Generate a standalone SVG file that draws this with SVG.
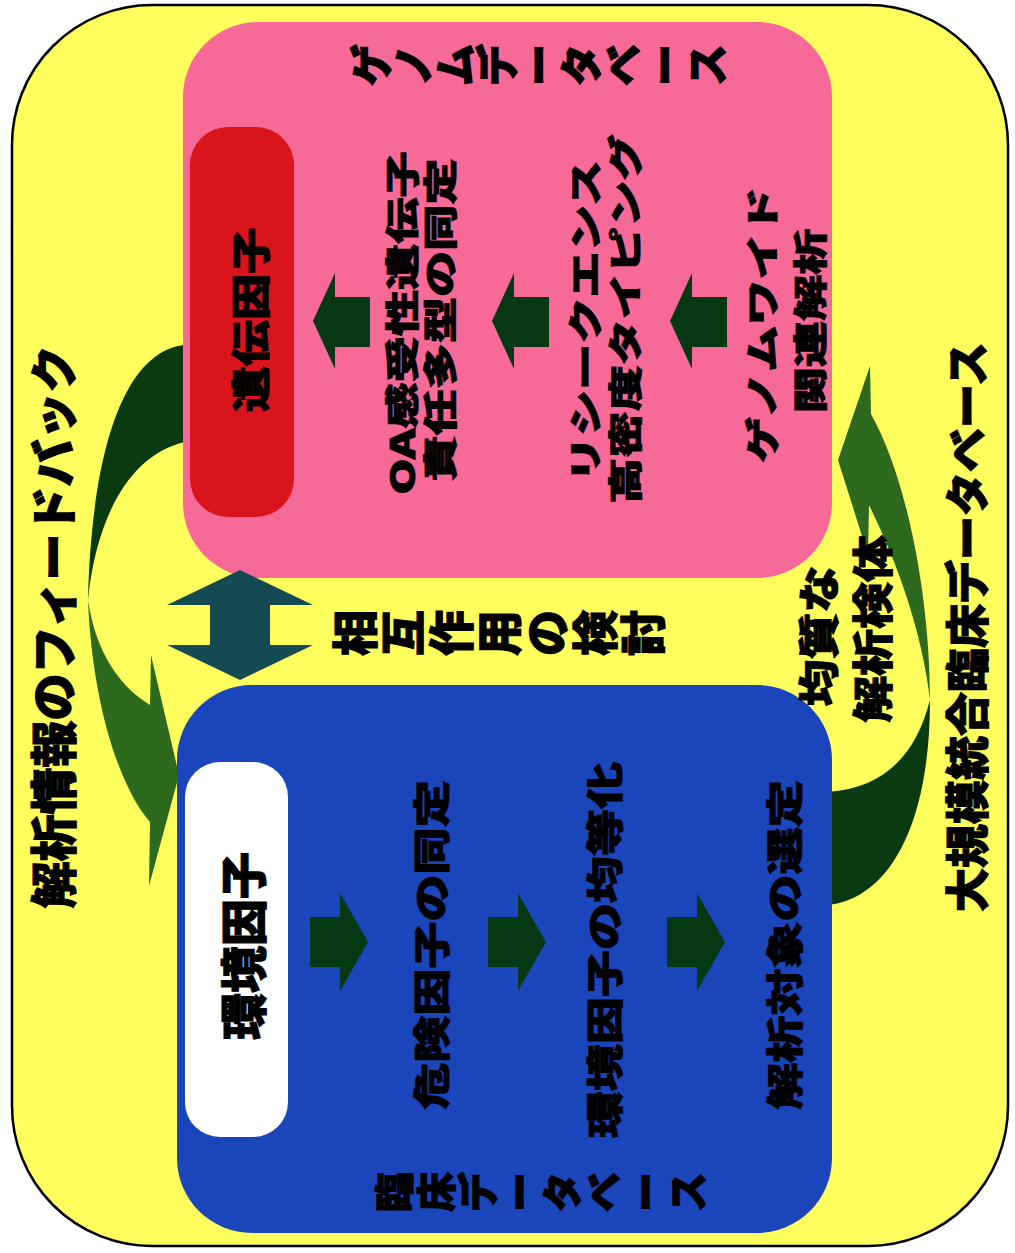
<svg xmlns="http://www.w3.org/2000/svg" width="1015" height="1253" viewBox="0 0 1015 1253">
<style>
.t{font-family:"Noto Sans CJK JP","Noto Sans",sans-serif;font-weight:900;fill:#000;stroke:#000;stroke-width:1.1;text-anchor:middle;dominant-baseline:central}
.sq{fill:#073814}
.back{fill:#0A3A12}
.front{fill:#2E6A1E}
</style>
<defs>
<polygon id="la" points="0,48 22,0 22,24 57,24 57,74 22,74 22,96"/>
<polygon id="ra" points="0,24 30,24 30,0 58,49 30,98 30,74 0,74"/>
</defs>
<rect width="1015" height="1253" fill="#fff"/>
<g id="outer">
<rect x="12" y="5" width="996" height="1241" rx="140" fill="#FFFF5E" stroke="#000" stroke-width="2.5"/>
<text class="t" font-size="47" transform="translate(50,627) rotate(-90)">解析情報のフィードバック</text>
<text class="t" font-size="44" transform="translate(965,627) rotate(-90)">大規模統合臨床データベース</text>
</g>
<g id="connectors">
<path class="back" d="M185,345 C128,350 92,440 88,600 C96,520 128,455 185,442 Z"/>
<path class="front" d="M88,600 C92,700 118,785 150,822 L149,886 L179,775 L151,655 L150,705 C122,688 96,655 88,600 Z"/>
<path class="back" d="M828,905 C892,898 930,820 930,700 C915,758 882,788 828,792 Z"/>
<path class="front" d="M930,700 C930,600 908,480 871,414 L870,366 L838,460 L868,555 L869,505 C896,560 922,630 930,700 Z"/>
</g>
<g id="genome">
<rect x="183" y="22" width="649" height="556" rx="75" fill="#F76A98"/>
<g class="t" font-size="42">
<text transform="translate(368,65) rotate(-90)">ゲ</text>
<text transform="translate(410,65) rotate(-90)">ノ</text>
<text transform="translate(452,65) rotate(-90)">ム</text>
<text transform="translate(494,65) rotate(-90)">デ</text>
<text transform="translate(536,65) rotate(-90)">ー</text>
<text transform="translate(578,65) rotate(-90)">タ</text>
<text transform="translate(620,65) rotate(-90)">ベ</text>
<text transform="translate(662,65) rotate(-90)">ー</text>
<text transform="translate(704,65) rotate(-90)">ス</text>
</g>
<g class="t" font-size="42">
<text transform="translate(400,323) rotate(-90) scale(1.1,0.8)">OA感受性遺伝子</text>
<text transform="translate(438,320) rotate(-90) scale(1.1,0.8)">責任多型の同定</text>
<text transform="translate(583,321) rotate(-90) scale(1.1,0.8)">リシークエンス</text>
<text transform="translate(623,319) rotate(-90) scale(1.1,0.8)">高密度タイピング</text>
<text transform="translate(760,325) rotate(-90) scale(1.1,0.8)">ゲノムワイド</text>
<text transform="translate(808,321) rotate(-90) scale(1.1,0.8)">関連解析</text>
</g>
</g>
<g id="gene">
<rect x="190" y="127" width="104" height="390" rx="38" fill="#D9141C"/>
<text class="t" font-size="44" transform="translate(248,320) rotate(-90) scale(1.05,0.88)">遺伝因子</text>
</g>
<g id="clinical">
<rect x="177" y="685" width="655" height="548" rx="75" fill="#1B45BA"/>
<g class="t" font-size="40">
<text transform="translate(392,1192) rotate(-90)">臨</text>
<text transform="translate(434,1192) rotate(-90)">床</text>
<text transform="translate(476,1192) rotate(-90)">デ</text>
<text transform="translate(518,1192) rotate(-90)">ー</text>
<text transform="translate(560,1192) rotate(-90)">タ</text>
<text transform="translate(602,1192) rotate(-90)">ベ</text>
<text transform="translate(644,1192) rotate(-90)">ー</text>
<text transform="translate(686,1192) rotate(-90)">ス</text>
</g>
<g class="t" font-size="44">
<text transform="translate(430,945) rotate(-90) scale(1.07,0.85)">危険因子の同定</text>
<text transform="translate(603,950) rotate(-90) scale(1.07,0.85)">環境因子の均等化</text>
<text transform="translate(783,945) rotate(-90) scale(1.07,0.85)">解析対象の選定</text>
</g>
</g>
<g id="env">
<rect x="185" y="762" width="103" height="375" rx="35" fill="#fff"/>
<text class="t" font-size="47" transform="translate(240,946) rotate(-90)">環境因子</text>
</g>
<g id="arrows">
<polygon points="240,570 313,605 270,605 270,645 313,645 240,680 167,645 210,645 210,605 167,605" fill="#154A52"/>
<use href="#la" x="313" y="273" class="sq"/>
<use href="#la" x="492" y="273" class="sq"/>
<use href="#la" x="670" y="273" class="sq"/>
<use href="#ra" x="310" y="893" class="sq"/>
<use href="#ra" x="488" y="893" class="sq"/>
<use href="#ra" x="667" y="893" class="sq"/>
</g>
<g id="labels" class="t" font-size="46">
<text transform="translate(352,633) rotate(-90)">相</text>
<text transform="translate(400,633) rotate(-90)">互</text>
<text transform="translate(448,633) rotate(-90)">作</text>
<text transform="translate(496,633) rotate(-90)">用</text>
<text transform="translate(544,633) rotate(-90)">の</text>
<text transform="translate(592,633) rotate(-90)">検</text>
<text transform="translate(640,633) rotate(-90)">討</text>
<text transform="translate(816,636) rotate(-90) scale(1.02,0.9)">均質な</text>
<text transform="translate(870,629) rotate(-90) scale(1.02,0.9)">解析検体</text>
</g>
</svg>
